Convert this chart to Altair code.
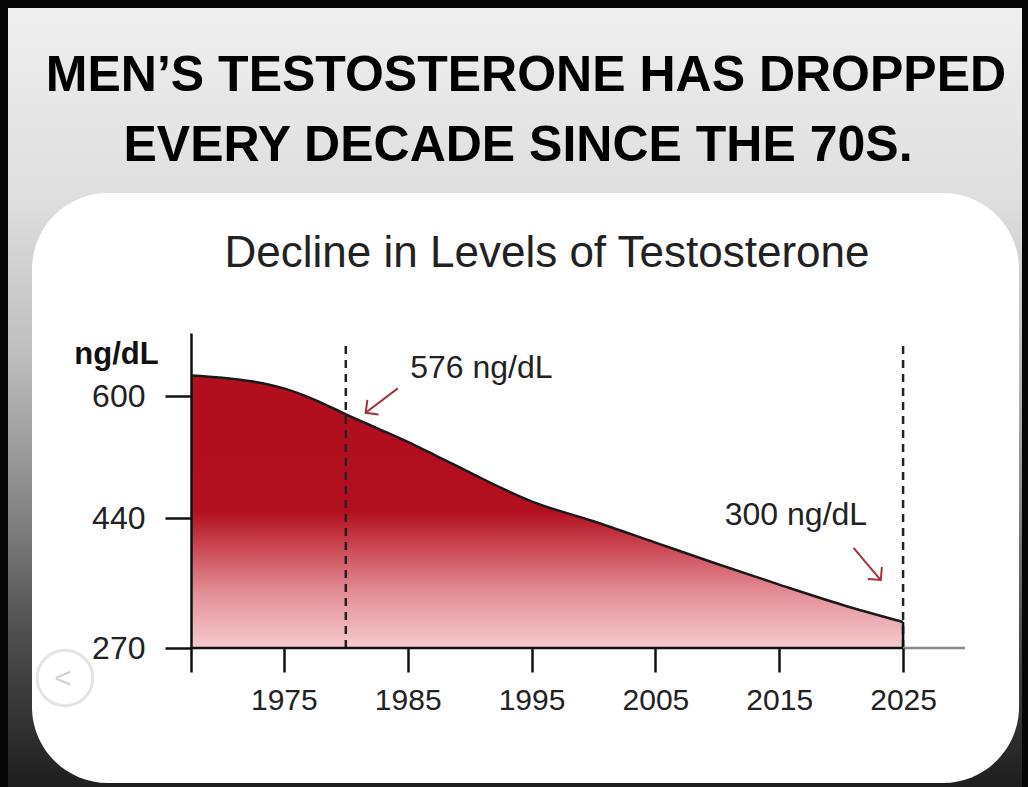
import math
import altair as alt
import pandas as pd

# ---------------- data ----------------
years = [1967.5, 1970, 1972.5, 1975, 1977.5, 1980, 1982.5, 1985, 1987.5, 1990,
         1992.5, 1995, 2000, 2005, 2010, 2015, 2020, 2025]
levels = [627, 624, 619, 610, 595, 576, 558, 540, 520, 500,
          480, 462, 436, 408, 380, 353, 327, 304]

x_ticks = [1967.5, 1975, 1985, 1995, 2005, 2015, 2025]
y_ticks = [270, 440, 600]
marker_years = [1980, 2025]

note_text = ["576 ng/dL", "300 ng/dL"]
note_year = [1985.2, 2010.6]
note_level = [623, 431]
arrow_from_year = [1984.2, 2021.0]
arrow_from_level = [610, 401]
arrow_to_year = [1981.6, 2023.2]
arrow_to_level = [578, 359]

headline = ["MEN\u2019S TESTOSTERONE HAS DROPPED", "EVERY DECADE SINCE THE 70S."]
chart_title = "Decline in Levels of Testosterone"
y_unit = "ng/dL"

# ---------------- layout ----------------
W, H = 1028, 787
PL, PT = 191, 333
PW, PH = 774, 315
X_DOMAIN = [1967.5, 2030]
Y_DOMAIN = [270, 682.5]
DASH_TOP = 673
FONT = "Liberation Sans"
HEAD_FONT = "Liberation Sans"

xs = alt.Scale(domain=X_DOMAIN, nice=False, zero=False)
ys = alt.Scale(domain=Y_DOMAIN, nice=False, zero=False)


def px(year):
    return (year - X_DOMAIN[0]) / (X_DOMAIN[1] - X_DOMAIN[0]) * PW


def py(level):
    return PH - (level - Y_DOMAIN[0]) / (Y_DOMAIN[1] - Y_DOMAIN[0]) * PH


one = pd.DataFrame({"k": [0]})

# ---------------- background decoration ----------------
bg = alt.Chart(one).mark_rect(
    fill=alt.Gradient(
        gradient="linear", x1=0, x2=0, y1=0, y2=1,
        stops=[
            alt.GradientStop(offset=0, color="#efefef"),
            alt.GradientStop(offset=0.25, color="#dedede"),
            alt.GradientStop(offset=0.45, color="#bdbdbd"),
            alt.GradientStop(offset=0.65, color="#838383"),
            alt.GradientStop(offset=0.8, color="#4f4f4f"),
            alt.GradientStop(offset=1, color="#1e1e1e"),
        ],
    )
).encode(
    x=alt.value(8 - PL), x2=alt.value(1022 - PL),
    y=alt.value(8 - PT), y2=alt.value(H - PT),
)

panel = alt.Chart(one).mark_rect(fill="white", cornerRadius=76).encode(
    x=alt.value(32 - PL), x2=alt.value(1019 - PL),
    y=alt.value(193 - PT), y2=alt.value(783 - PT),
)

head1 = alt.Chart(one).mark_text(
    text=headline[0], font=HEAD_FONT, fontSize=50, fontWeight="bold",
    color="#000000", align="center", baseline="alphabetic",
).encode(x=alt.value(526 - PL), y=alt.value(91 - PT))

head2 = alt.Chart(one).mark_text(
    text=headline[1], font=HEAD_FONT, fontSize=50, fontWeight="bold",
    color="#000000", align="center", baseline="alphabetic",
).encode(x=alt.value(518 - PL), y=alt.value(161 - PT))

title = alt.Chart(one).mark_text(
    text=chart_title, font=FONT, fontSize=44, color="#222222",
    align="center", baseline="alphabetic",
).encode(x=alt.value(547 - PL), y=alt.value(267 - PT))

nav_circle = alt.Chart(one).mark_point(
    shape="circle", filled=True, fill="white", stroke="#e4e4e4",
    strokeWidth=3, size=3100, opacity=1,
).encode(x=alt.value(65 - PL), y=alt.value(678 - PT))

nav_glyph = alt.Chart(one).mark_text(
    text="<", font=FONT, fontSize=30, color="#d2d2d2",
    align="center", baseline="middle",
).encode(x=alt.value(63 - PL), y=alt.value(679 - PT))

# ---------------- data layers ----------------
df = pd.DataFrame({"year": years, "level": levels})

area = alt.Chart(df).mark_area(
    interpolate="monotone",
    fill=alt.Gradient(
        gradient="linear", x1=0, x2=0, y1=0, y2=1,
        stops=[
            alt.GradientStop(offset=0, color="#b10e1e"),
            alt.GradientStop(offset=0.5, color="#b3101f"),
            alt.GradientStop(offset=0.62, color="#c9434f"),
            alt.GradientStop(offset=0.8, color="#e48f98"),
            alt.GradientStop(offset=1, color="#f6cbcf"),
        ],
    ),
).encode(
    x=alt.X("year:Q", scale=xs, axis=alt.Axis(
        values=x_ticks, title=None, domain=False, grid=False,
        labelExpr="datum.value < 1970 ? '' : toString(datum.value)",
        tickSize=24, tickWidth=2.5, tickColor="#111111",
        labelFont=FONT, labelFontSize=30, labelColor="#222222",
        labelPadding=13, labelFlush=False, labelOverlap=False, zindex=1,
    )),
    y=alt.Y("level:Q", scale=ys, axis=alt.Axis(
        values=y_ticks, grid=False, title=y_unit, titleAngle=0,
        titleX=-75, titleY=30, titleAlign="center", titleBaseline="alphabetic",
        titleFont=FONT, titleFontSize=31, titleFontWeight="bold", titleColor="#111111",
        labelFont=FONT, labelFontSize=32, labelColor="#222222", labelPadding=20,
        tickSize=26, tickWidth=2.5, tickColor="#111111",
        domainColor="#111111", domainWidth=2.5, zindex=1,
    )),
    y2=alt.datum(Y_DOMAIN[0]),
)

line = alt.Chart(df).mark_line(
    interpolate="monotone", color="#1a1a1a", strokeWidth=2.5
).encode(x=alt.X("year:Q", scale=xs), y=alt.Y("level:Q", scale=ys))

markers = pd.DataFrame({"year": marker_years, "lo": [Y_DOMAIN[0]] * 2, "hi": [DASH_TOP] * 2})
dashes = alt.Chart(markers).mark_rule(
    color="#222222", strokeWidth=2.5, strokeDash=[8, 6]
).encode(
    x=alt.X("year:Q", scale=xs), y=alt.Y("lo:Q", scale=ys), y2="hi:Q"
)

end_edge = alt.Chart(pd.DataFrame({"year": [years[-1]], "lo": [Y_DOMAIN[0]], "hi": [levels[-1]]})).mark_rule(
    color="#111111", strokeWidth=2.5
).encode(x=alt.X("year:Q", scale=xs), y=alt.Y("lo:Q", scale=ys), y2="hi:Q")

base_black = alt.Chart(pd.DataFrame({"a": [X_DOMAIN[0]], "b": [years[-1]], "lvl": [Y_DOMAIN[0]]})).mark_rule(
    color="#111111", strokeWidth=2.5
).encode(x=alt.X("a:Q", scale=xs), x2="b:Q", y=alt.Y("lvl:Q", scale=ys))

base_gray = alt.Chart(pd.DataFrame({"a": [years[-1]], "b": [X_DOMAIN[1]], "lvl": [Y_DOMAIN[0]]})).mark_rule(
    color="#8c8c8c", strokeWidth=2.5
).encode(x=alt.X("a:Q", scale=xs), x2="b:Q", y=alt.Y("lvl:Q", scale=ys))

notes = alt.Chart(pd.DataFrame({"t": note_text, "year": note_year, "level": note_level})).mark_text(
    font=FONT, fontSize=32, color="#222222", align="left", baseline="alphabetic"
).encode(x=alt.X("year:Q", scale=xs), y=alt.Y("level:Q", scale=ys), text="t:N")

angles = []
for fy, fl, ty, tl in zip(arrow_from_year, arrow_from_level, arrow_to_year, arrow_to_level):
    dx = px(ty) - px(fy)
    dy = py(tl) - py(fl)
    angles.append(math.degrees(math.atan2(dy, dx)) % 360)

arrows_df = pd.DataFrame({
    "fy": arrow_from_year, "fl": arrow_from_level,
    "ty": arrow_to_year, "tl": arrow_to_level, "ang": angles,
})
ARROW_RED = "#a8303d"
shafts = alt.Chart(arrows_df).mark_rule(color=ARROW_RED, strokeWidth=2).encode(
    x=alt.X("fy:Q", scale=xs), y=alt.Y("fl:Q", scale=ys), x2="ty:Q", y2="tl:Q"
)
heads = alt.Chart(arrows_df).mark_point(
    shape="M -1 -1 L 0 0 L -1 1", filled=False, stroke=ARROW_RED,
    strokeWidth=2, size=340, opacity=1,
).encode(
    x=alt.X("ty:Q", scale=xs), y=alt.Y("tl:Q", scale=ys), angle=alt.Angle("ang:Q", scale=None)
)

chart = alt.layer(
    bg, panel, head1, head2, title, nav_circle, nav_glyph,
    area, line, dashes, end_edge, base_black, base_gray, notes, shafts, heads,
).properties(
    width=PW, height=PH,
    padding={"left": PL, "top": PT, "right": W - PL - PW, "bottom": H - PT - PH},
    autosize=alt.AutoSizeParams(type="none"),
    background="#060606",
).configure_view(strokeWidth=0)

chart.save("out.html", embed_options={"renderer": "svg", "actions": False})
